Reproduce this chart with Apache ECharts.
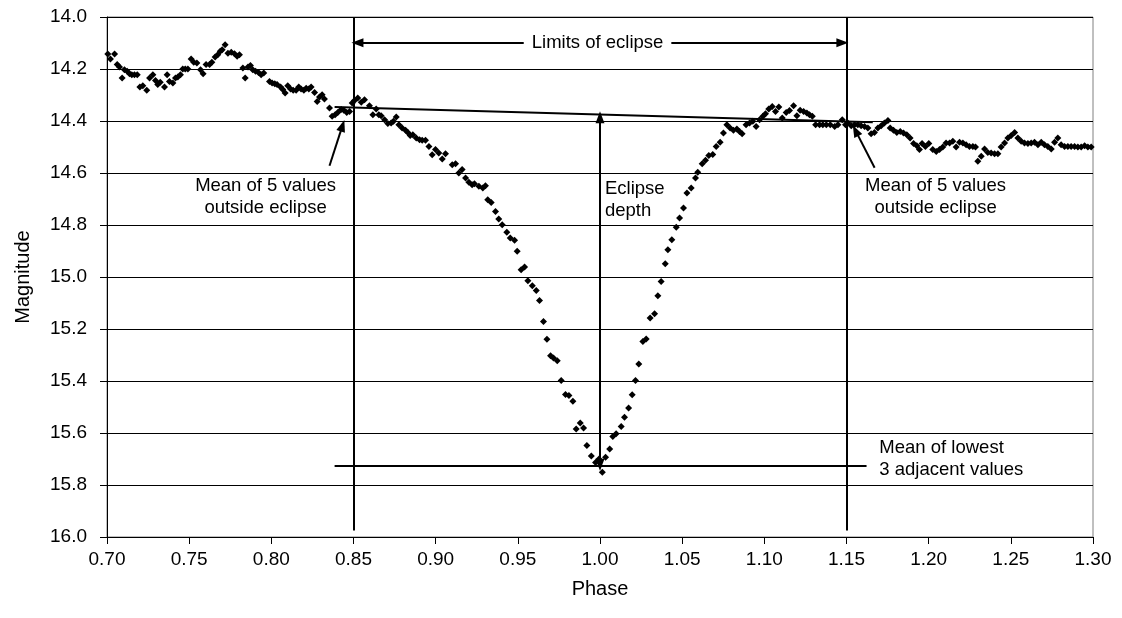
<!DOCTYPE html>
<html><head><meta charset="utf-8">
<script src="https://cdn.jsdelivr.net/npm/echarts@6/dist/echarts.min.js"></script>
<style>html,body{margin:0;padding:0;background:#fff}#c{width:1122px;height:618px}</style>
</head><body><div id="c"></div>
<script>
// ---- observed light curve ----
const phase = [
0.7005,0.7021,0.7046,0.7062,0.7076,0.7092,0.7106,0.7123,0.7137,0.7151,0.7167,0.7184,0.7200,0.7218,0.7242,0.7259,0.7279,0.7295,0.7309,0.7324,
0.7350,0.7366,0.7380,0.7401,0.7417,0.7431,0.7447,0.7461,0.7476,0.7492,0.7512,0.7528,0.7547,0.7569,0.7585,0.7603,0.7624,0.7638,0.7658,0.7674,
0.7689,0.7701,0.7719,0.7736,0.7756,0.7776,0.7792,0.7806,0.7827,0.7841,0.7858,0.7873,0.7887,0.7904,0.7922,0.7938,0.7954,0.7989,0.8005,0.8021,
0.8035,0.8056,0.8070,0.8084,0.8100,0.8117,0.8133,0.8151,0.8167,0.8181,0.8198,0.8212,0.8228,0.8242,0.8263,0.8279,0.8293,0.8309,0.8323,0.8354,
0.8370,0.8388,0.8404,0.8425,0.8441,0.8459,0.8476,0.8492,
0.8506,0.8526,0.8547,0.8567,0.8597,0.8618,0.8638,0.8654,0.8668,0.8689,0.8709,0.8729,0.8743,0.8760,0.8776,0.8796,0.8817,0.8831,0.8845,0.8861,
0.8882,0.8902,0.8918,0.8938,0.8959,0.8979,0.8999,0.9019,0.9040,0.9060,0.9101,0.9121,0.9141,0.9161,0.9182,0.9202,0.9222,0.9236,0.9263,0.9287,
0.9303,0.9317,0.9338,
0.9364,0.9384,0.9405,0.9433,0.9454,0.9480,0.9496,0.9520,0.9541,0.9561,0.9588,0.9612,0.9632,0.9656,0.9677,0.9699,0.9717,0.9740,0.9764,0.9790,
0.9811,0.9835,0.9855,0.9880,0.9900,0.9920,0.9947,0.9973,0.9994,1.0014,1.0034,1.0059,
1.0078,1.0098,1.0129,1.0149,1.0174,1.0196,1.0216,1.0236,1.0261,1.0281,1.0305,1.0332,1.0352,1.0372,1.0397,1.0413,1.0437,1.0464,1.0484,1.0508,
1.0529,1.0555,
1.0581,1.0595,1.0622,1.0642,1.0662,1.0686,1.0707,1.0731,1.0751,1.0772,1.0792,1.0812,1.0833,1.0849,1.0865,1.0889,1.0910,1.0930,1.0950,1.0971,
1.0991,1.1007,1.1027,1.1048,1.1068,1.1088,1.1109,1.1133,1.1153,1.1178,1.1198,1.1218,1.1239,1.1259,1.1275,1.1292,1.1312,1.1336,1.1356,1.1377,
1.1401,1.1428,1.1448,1.1474,1.1494,
1.1508,1.1529,1.1549,1.1569,1.1589,1.1610,1.1630,1.1650,1.1670,1.1691,1.1711,1.1731,1.1752,1.1766,1.1786,1.1806,1.1827,1.1847,1.1867,1.1887,
1.1908,1.1928,1.1944,1.1960,1.1980,1.2001,1.2025,1.2046,1.2066,1.2086,1.2106,1.2127,1.2147,1.2167,1.2188,1.2208,1.2228,1.2248,1.2269,1.2285,
1.2299,1.2320,1.2340,1.2360,1.2380,1.2401,1.2421,1.2441,1.2462,1.2482,1.2502,1.2523,1.2543,1.2563,1.2583,1.2604,1.2624,1.2644,1.2665,1.2685,
1.2705,1.2725,1.2746,1.2766,1.2786,1.2806,1.2827,1.2847,1.2867,1.2888,1.2908,1.2928,1.2949,1.2969,1.2989
];
const magnitude = [
14.142,14.162,14.142,14.183,14.192,14.235,14.203,14.209,14.218,14.222,14.222,14.222,14.269,14.264,14.282,14.235,14.222,14.244,14.260,14.251,
14.269,14.222,14.248,14.254,14.235,14.231,14.222,14.200,14.200,14.200,14.162,14.174,14.177,14.203,14.218,14.183,14.183,14.174,14.154,14.145,
14.132,14.126,14.107,14.139,14.136,14.141,14.151,14.145,14.196,14.235,14.192,14.187,14.203,14.209,14.213,14.222,14.215,14.248,14.254,14.257,
14.260,14.269,14.279,14.292,14.264,14.277,14.282,14.282,14.269,14.277,14.282,14.274,14.277,14.269,14.290,14.325,14.308,14.299,14.315,14.350,
14.382,14.376,14.367,14.356,14.359,14.367,14.363,14.331,
14.321,14.312,14.328,14.318,14.341,14.376,14.354,14.376,14.380,14.395,14.410,14.408,14.401,14.385,14.414,14.427,14.436,14.444,14.456,14.453,
14.465,14.472,14.474,14.474,14.498,14.530,14.510,14.523,14.546,14.526,14.568,14.564,14.600,14.587,14.619,14.636,14.645,14.641,14.651,14.658,
14.649,14.703,14.713,
14.748,14.777,14.799,14.828,14.850,14.859,14.901,14.972,14.962,15.014,15.034,15.052,15.090,15.171,15.239,15.303,15.312,15.322,15.398,15.452,
15.456,15.478,15.585,15.562,15.581,15.648,15.688,15.713,15.700,15.751,15.693,15.662,
15.613,15.603,15.575,15.539,15.504,15.453,15.398,15.335,15.248,15.238,15.158,15.141,15.072,15.017,14.949,14.895,14.857,14.809,14.773,14.735,
14.677,14.658,
14.619,14.597,14.564,14.551,14.533,14.529,14.498,14.482,14.446,14.414,14.427,14.436,14.431,14.440,14.449,14.414,14.408,14.401,14.421,14.395,
14.382,14.372,14.354,14.344,14.363,14.346,14.388,14.367,14.360,14.341,14.380,14.359,14.363,14.369,14.376,14.382,14.414,14.414,14.414,14.414,
14.414,14.421,14.414,14.395,14.414,
14.408,14.418,14.414,14.414,14.418,14.421,14.427,14.449,14.444,14.427,14.418,14.408,14.398,14.427,14.436,14.444,14.440,14.446,14.453,14.465,
14.487,14.495,14.510,14.487,14.498,14.487,14.510,14.517,14.510,14.500,14.485,14.485,14.478,14.500,14.482,14.485,14.491,14.498,14.498,14.500,
14.555,14.536,14.508,14.521,14.523,14.526,14.526,14.500,14.485,14.465,14.456,14.444,14.465,14.478,14.485,14.487,14.485,14.482,14.491,14.482,
14.491,14.498,14.508,14.482,14.465,14.491,14.498,14.498,14.498,14.498,14.500,14.500,14.495,14.500,14.500
];

// ---- axes ----
const xMin = 0.70, xMax = 1.30, xStep = 0.05;
const yMin = 14.0, yMax = 16.0, yStep = 0.2;

// ---- annotations (data units) ----
const eclipseLimits = [0.85, 1.15];
const limitLineEnd = 15.975;
const outsideMeanLine = [[0.8385, 14.346], [1.1660, 14.405]];
const lowestMeanLine = [[0.8385, 15.725], [1.1622, 15.725]];
const depthArrow = [[1.0, 14.386], [1.0, 15.722]];
const limitsArrow = [[0.8524, 14.099], [1.1475, 14.099]];
const leftPointer = [[0.8354, 14.572], [0.8433, 14.418]];
const rightPointer = [[1.1671, 14.580], [1.1555, 14.437]];
const notes = [
  {text: 'Limits of eclipse', at: [0.9985, 14.099], align: 'center', bg: true},
  {text: 'Mean of 5 values\noutside eclipse', at: [0.7965, 14.691], align: 'center'},
  {text: 'Eclipse\ndepth', at: [1.0030, 14.703], align: 'left'},
  {text: 'Mean of 5 values\noutside eclipse', at: [1.2042, 14.691], align: 'center'},
  {text: 'Mean of lowest\n3 adjacent values', at: [1.1700, 15.699], align: 'left'}
];

const FONT = '"Liberation Sans", Arial, Helvetica, sans-serif';
const head = [9, 12];
function seg(a, b, s0, s1) {
  return [{coord: a, symbol: s0 || 'none', symbolSize: head}, {coord: b, symbol: s1 || 'none', symbolSize: head}];
}
const markData = [
  seg([eclipseLimits[0], yMin], [eclipseLimits[0], limitLineEnd]),
  seg([eclipseLimits[1], yMin], [eclipseLimits[1], limitLineEnd]),
  seg(outsideMeanLine[0], outsideMeanLine[1]),
  seg(lowestMeanLine[0], lowestMeanLine[1]),
  seg(depthArrow[0], depthArrow[1], 'triangle', 'triangle'),
  seg(limitsArrow[0], limitsArrow[1], 'triangle', 'triangle'),
  seg(leftPointer[0], leftPointer[1], 'none', 'triangle'),
  seg(rightPointer[0], rightPointer[1], 'none', 'triangle')
];

const chart = echarts.init(document.getElementById('c'), null, {renderer: 'canvas'});
chart.setOption({
  animation: false,
  backgroundColor: '#fff',
  textStyle: {fontFamily: FONT},
  grid: {left: 107, right: 29, top: 17, bottom: 81, show: true, borderColor: '#808080', borderWidth: 1, containLabel: false, outerBoundsMode: 'none'},
  xAxis: {
    type: 'value', min: xMin, max: xMax, interval: xStep,
    name: 'Phase', nameLocation: 'middle', nameGap: 42,
    nameTextStyle: {fontSize: 20, color: '#000', fontFamily: FONT},
    axisLine: {show: true, onZero: false, lineStyle: {color: '#000', width: 1}},
    axisTick: {show: true, inside: false, length: 7, lineStyle: {color: '#000'}},
    axisLabel: {fontSize: 19, color: '#000', margin: 13, fontFamily: FONT, formatter: v => v.toFixed(2)},
    splitLine: {show: false}
  },
  yAxis: {
    type: 'value', inverse: true, min: yMin, max: yMax, interval: yStep,
    name: 'Magnitude', nameLocation: 'middle', nameGap: 74, nameRotate: 90,
    nameTextStyle: {fontSize: 20, color: '#000', fontFamily: FONT},
    axisLine: {show: true, onZero: false, lineStyle: {color: '#000', width: 1}},
    axisTick: {show: true, inside: false, length: 7, lineStyle: {color: '#000'}},
    axisLabel: {fontSize: 19, color: '#000', margin: 20, fontFamily: FONT, formatter: v => v.toFixed(1)},
    splitLine: {show: true, lineStyle: {color: '#000', width: 1}}
  },
  series: [{
    type: 'scatter',
    data: phase.map((p, i) => [p, magnitude[i]]),
    symbol: 'diamond', symbolSize: [7, 7],
    itemStyle: {color: '#000', opacity: 1},
    silent: true,
    markLine: {
      silent: true, animation: false,
      label: {show: false},
      emphasis: {disabled: true},
      lineStyle: {color: '#000', width: 2, type: 'solid'},
      symbol: ['none', 'none'],
      data: markData
    }
  }]
});

chart.setOption({
  graphic: notes.map(n => {
    const p = chart.convertToPixel({gridIndex: 0}, n.at);
    return {
      type: 'text', x: p[0], y: p[1], z: 100,
      style: {
        text: n.text, font: '18.5px ' + FONT, fill: '#000',
        align: n.align, textAlign: n.align, verticalAlign: 'middle', textVerticalAlign: 'middle',
        lineHeight: 22,
        backgroundColor: n.bg ? '#fff' : null, padding: n.bg ? [2, 8] : 0
      }
    };
  })
});
</script>
</body></html>
